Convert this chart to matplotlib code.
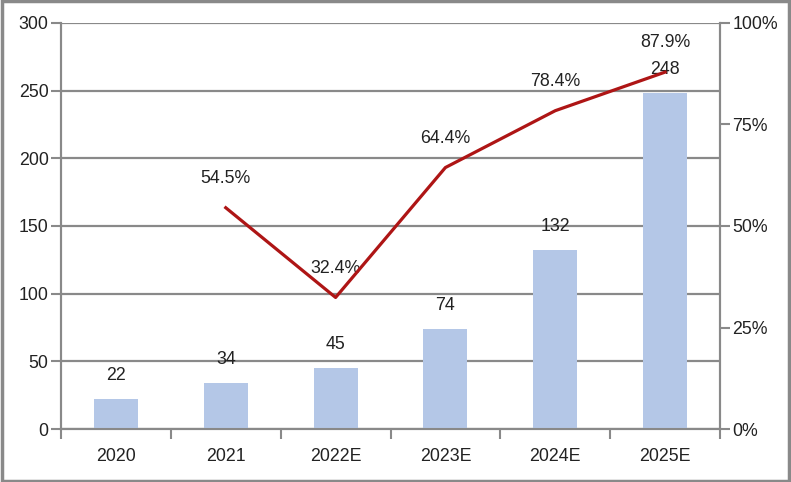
import matplotlib
matplotlib.use("Agg")
import matplotlib.pyplot as plt
from matplotlib.patches import Rectangle

categories = ["2020", "2021", "2022E", "2023E", "2024E", "2025E"]
values = [22, 34, 45, 74, 132, 248]
growth_cats = ["2021", "2022E", "2023E", "2024E", "2025E"]
growth = [54.5, 32.4, 64.4, 78.4, 87.9]

plt.rcParams['font.family'] = ['Liberation Sans', 'DejaVu Sans']
gray = '#898989'
fs = 12.8

fig = plt.figure(figsize=(7.91, 4.82), dpi=100)
ax = fig.add_axes([61/791, 1-429/482, 659/791, 406/482])
ax2 = ax.twinx()

x = list(range(len(categories)))
ax.bar(x, values, width=0.4, color='#B4C7E7', zorder=3)
for xi, v in zip(x, values):
    ax.annotate(str(v), (xi, v), xytext=(0, 17), textcoords='offset points',
                ha='center', va='center', fontsize=fs, color='#222222', zorder=5)

gx = [categories.index(c) for c in growth_cats]
ax2.plot(gx, growth, color='#AE1515', lw=2.3, zorder=4)
for xi, g in zip(gx, growth):
    ax2.annotate(f"{g}%", (xi, g), xytext=(0, 21), textcoords='offset points',
                 ha='center', va='center', fontsize=fs, color='#222222')

ax.set_xlim(-0.5, len(categories) - 0.5)
ax.set_ylim(0, 300)
ax.set_yticks(range(0, 301, 50))
ax2.set_ylim(0, 100)
ax2.set_yticks([0, 25, 50, 75, 100])
ax2.set_yticklabels(["0%", "25%", "50%", "75%", "100%"])

ax.grid(axis='y', color=gray, lw=1.6, zorder=0)
ax.set_axisbelow(True)
ax.set_xticks(x)
ax.set_xticklabels(categories)
ax.set_xticks([i - 0.5 for i in range(len(categories) + 1)], minor=True)
ax.tick_params(axis='x', which='major', length=0, pad=14, labelsize=fs, labelcolor='#222222')
ax.tick_params(axis='x', which='minor', length=7, width=1.5, color=gray, direction='out')
ax.tick_params(axis='y', length=7, width=1.5, color=gray, labelsize=fs, labelcolor='#222222', pad=2)
ax2.tick_params(axis='y', length=7, width=1.5, color=gray, labelsize=fs, labelcolor='#222222', pad=2)

for a in (ax, ax2):
    for s in ['top']:
        a.spines[s].set_visible(False)
    for s in ['left', 'right', 'bottom']:
        a.spines[s].set_color(gray)
        a.spines[s].set_linewidth(1.5)

fig.patches.append(Rectangle((0.002, 0.003), 0.996, 0.994, transform=fig.transFigure,
                             fill=False, edgecolor=gray, lw=2.5))

fig.savefig("out.png", dpi=100)
